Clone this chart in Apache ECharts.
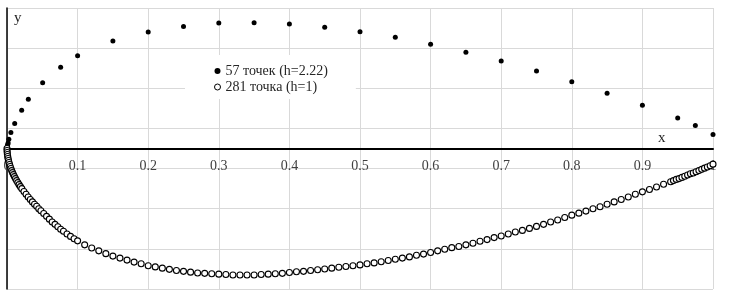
<!DOCTYPE html>
<html><head><meta charset="utf-8">
<script src="https://cdn.jsdelivr.net/npm/echarts@6/dist/echarts.min.js"></script>
<style>html,body{margin:0;padding:0;background:#fff}#c{width:730px;height:298px}</style>
</head><body><div id="c"></div>
<script>
// Series 1: 57 points (h=2.22), filled dots
const coarseName = '57 точек (h=2.22)';
const coarseX = [0, 0.0001, 0.0003, 0.0006, 0.0010, 0.0016, 0.0026, 0.0055, 0.0109, 0.0208, 0.0302, 0.0505, 0.076, 0.100,
  0.150, 0.200, 0.250, 0.300, 0.350, 0.400, 0.450, 0.500, 0.550, 0.600, 0.650, 0.700, 0.750, 0.800, 0.850, 0.900, 0.950, 0.975, 1.000];
const coarseY = [0, 0.02, 0.04, 0.07, 0.10, 0.14, 0.23, 0.40, 0.62, 0.95, 1.225, 1.64, 2.025, 2.31,
  2.675, 2.90, 3.04, 3.125, 3.13, 3.10, 3.02, 2.91, 2.77, 2.60, 2.40, 2.18, 1.93, 1.66, 1.375, 1.075, 0.76, 0.575, 0.35];

// Series 2: 281 points (h=1), hollow circles
const fineName = '281 точка (h=1)';
const fineX = [0, 0.0001, 0.0003, 0.0006, 0.0010, 0.0015, 0.0021, 0.0028, 0.0036, 0.0045, 0.0055, 0.0066, 0.0078, 0.0091, 0.0105, 0.0120, 0.0136, 0.0153, 0.0171, 0.0190, 0.0210,
  0.024, 0.027, 0.030, 0.033, 0.036, 0.039, 0.042, 0.045, 0.048, 0.052, 0.056, 0.060, 0.064, 0.068, 0.072, 0.076, 0.080, 0.085, 0.090, 0.095, 0.100,
  0.11, 0.12, 0.13, 0.14, 0.15, 0.16, 0.17, 0.18, 0.19, 0.20, 0.21, 0.22, 0.23, 0.24, 0.25, 0.26, 0.27, 0.28, 0.29, 0.30,
  0.31, 0.32, 0.33, 0.34, 0.35, 0.36, 0.37, 0.38, 0.39, 0.40, 0.41, 0.42, 0.43, 0.44, 0.45, 0.46, 0.47, 0.48, 0.49, 0.50,
  0.51, 0.52, 0.53, 0.54, 0.55, 0.56, 0.57, 0.58, 0.59, 0.60, 0.61, 0.62, 0.63, 0.64, 0.65, 0.66, 0.67, 0.68, 0.69, 0.70,
  0.71, 0.72, 0.73, 0.74, 0.75, 0.76, 0.77, 0.78, 0.79, 0.80, 0.81, 0.82, 0.83, 0.84, 0.85, 0.86, 0.87, 0.88, 0.89, 0.90,
  0.91, 0.92, 0.93, 0.94,
  0.944, 0.948, 0.952, 0.956, 0.960, 0.964, 0.968, 0.972, 0.976, 0.980, 0.984, 0.988, 0.992, 0.996, 1.000];
const fineY = [0, -0.05, -0.10, -0.15, -0.20, -0.25, -0.30, -0.35, -0.40, -0.45, -0.50, -0.55, -0.60, -0.65, -0.70, -0.75, -0.80, -0.85, -0.90, -0.95, -1.00,
  -1.07, -1.14, -1.21, -1.27, -1.33, -1.39, -1.44, -1.50, -1.55, -1.62, -1.69, -1.76, -1.83, -1.89, -1.95, -2.01, -2.06, -2.13, -2.19, -2.25, -2.30,
  -2.40, -2.48, -2.55, -2.62, -2.68, -2.73, -2.78, -2.83, -2.87, -2.92, -2.95, -2.98, -3.01, -3.04, -3.06, -3.08, -3.10, -3.11, -3.12, -3.13,
  -3.14, -3.15, -3.15, -3.15, -3.15, -3.14, -3.13, -3.12, -3.11, -3.09, -3.07, -3.06, -3.04, -3.02, -3.00, -2.98, -2.96, -2.94, -2.92, -2.90,
  -2.87, -2.85, -2.82, -2.79, -2.76, -2.73, -2.70, -2.66, -2.63, -2.59, -2.55, -2.51, -2.47, -2.44, -2.40, -2.36, -2.31, -2.27, -2.22, -2.18,
  -2.13, -2.08, -2.04, -1.99, -1.94, -1.89, -1.83, -1.78, -1.72, -1.66, -1.61, -1.56, -1.50, -1.45, -1.39, -1.33, -1.27, -1.21, -1.14, -1.08,
  -1.02, -0.96, -0.89, -0.83,
  -0.80, -0.77, -0.75, -0.72, -0.69, -0.66, -0.63, -0.61, -0.58, -0.55, -0.52, -0.49, -0.46, -0.43, -0.39];

const xTickLabels = ['0', '0.1', '0.2', '0.3', '0.4', '0.5', '0.6', '0.7', '0.8', '0.9', '1'];
const xAxisName = 'x';
const yAxisName = 'y';

const zip = (xs, ys) => xs.map((x, i) => [x, ys[i]]);
const font = '"Liberation Serif", "Times New Roman", serif';

const gridTop = 8, gridBottom = 9, H = 298;
const yMin = -3.5, yMax = 3.5;
// distance from grid bottom up to the y = 0 line (for the label axis)
const zeroOffset = (H - gridTop - gridBottom) * (0 - yMin) / (yMax - yMin);

const chart = echarts.init(document.getElementById('c'), null, {renderer: 'canvas'});
chart.setOption({
  animation: false,
  backgroundColor: '#fff',
  grid: {left: 7, right: 17, top: gridTop, bottom: gridBottom, containLabel: false, outerBoundsMode: 'none'},
  xAxis: [{
    type: 'value', min: 0, max: 1, interval: 0.1,
    axisLine: {onZero: true, lineStyle: {color: '#000', width: 2}},
    axisTick: {show: false},
    axisLabel: {show: false},
    splitLine: {show: true, lineStyle: {color: '#d9d9d9', width: 1}}
  }, {
    type: 'value', min: 0, max: 1, interval: 0.1, position: 'bottom', offset: -zeroOffset,
    axisLine: {show: false, onZero: false},
    axisTick: {show: false},
    splitLine: {show: false},
    axisLabel: {
      show: true, margin: 11, showMinLabel: true, showMaxLabel: true, hideOverlap: false,
      color: '#404040', fontFamily: font, fontSize: 14,
      formatter: v => xTickLabels[Math.round(v * 10)]
    }
  }],
  yAxis: {
    type: 'value', min: yMin, max: yMax, interval: 1,
    axisLine: {show: true, onZero: true, lineStyle: {color: '#000', width: 1.5}},
    axisTick: {show: false},
    axisLabel: {show: false},
    splitLine: {show: true, lineStyle: {color: '#d9d9d9', width: 1}}
  },
  legend: {
    orient: 'vertical', left: 185, top: 55,
    backgroundColor: '#fff',
    padding: [8, 28, 4, 29],
    itemGap: 0, itemWidth: 6, itemHeight: 6,
    textStyle: {fontFamily: font, fontSize: 14, color: '#262626', lineHeight: 16},
    data: [
      {name: coarseName, icon: 'circle', itemStyle: {color: '#000', borderWidth: 0}},
      {name: fineName, icon: 'circle', itemStyle: {color: '#fff', borderColor: '#000', borderWidth: 1}}
    ]
  },
  graphic: [
    {type: 'text', left: 14, top: 11, style: {text: yAxisName, font: '15px ' + font, fill: '#262626'}},
    {type: 'text', left: 658, top: 131, style: {text: xAxisName, font: '15px ' + font, fill: '#262626'}}
  ],
  series: [
    {
      name: coarseName, type: 'scatter', symbol: 'circle', symbolSize: 5,
      itemStyle: {color: '#000', opacity: 1},
      data: zip(coarseX, coarseY)
    },
    {
      name: fineName, type: 'scatter', symbol: 'circle', symbolSize: 6,
      itemStyle: {color: '#fff', borderColor: '#000', borderWidth: 1.1, opacity: 1},
      data: zip(fineX, fineY)
    }
  ]
});
</script>
</body></html>
